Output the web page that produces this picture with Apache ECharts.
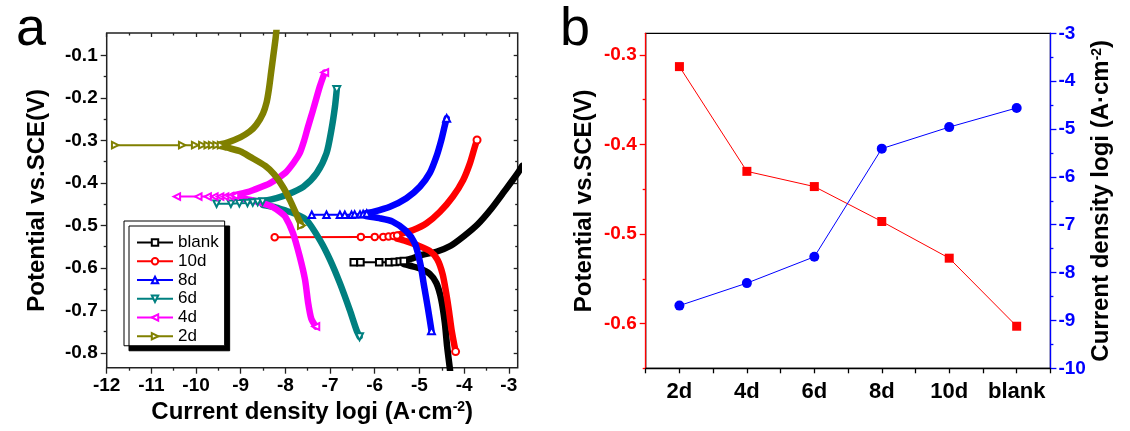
<!DOCTYPE html>
<html>
<head>
<meta charset="utf-8">
<script src="https://cdn.jsdelivr.net/npm/echarts@6.0.0/dist/echarts.min.js"></script>
<style>
html, body { margin: 0; padding: 0; background: #fff; }
#chart { width: 1130px; height: 431px; }
</style>
</head>
<body>
<div id="chart"></div>
<script>
// ---- panel a : Tafel curves, points are [log i, E(V)] ----
// flat = sparse points near Ecorr (drawn with markers), up/down = anodic/cathodic branches
const blankFlat = [[-6.47,-0.587],[-6.32,-0.587],[-5.90,-0.587],[-5.68,-0.587],[-5.55,-0.586],[-5.44,-0.585],[-5.35,-0.584]];
const blankUp = [[-5.35,-0.583],[-5.2,-0.579],[-4.92,-0.569],[-4.62,-0.562],[-4.3,-0.548],[-4.0,-0.525],[-3.7,-0.498],[-3.4,-0.462],[-3.1,-0.42],[-2.8,-0.377],[-2.7,-0.36]];
const blankDown = [[-5.35,-0.591],[-5.2,-0.595],[-5.0,-0.601],[-4.77,-0.614],[-4.62,-0.636],[-4.51,-0.675],[-4.43,-0.730],[-4.38,-0.785],[-4.32,-0.836],[-4.3,-0.86]];

const d10Flat = [[-8.24,-0.528],[-6.31,-0.527],[-6.0,-0.527],[-5.81,-0.527],[-5.69,-0.526],[-5.58,-0.525],[-5.50,-0.524]];
const d10Up = [[-5.5,-0.523],[-5.36,-0.518],[-5.14,-0.511],[-4.84,-0.495],[-4.54,-0.468],[-4.25,-0.432],[-4.02,-0.393],[-3.87,-0.354],[-3.76,-0.315],[-3.71,-0.299]];
const d10Down = [[-5.5,-0.531],[-5.3,-0.537],[-5.06,-0.546],[-4.77,-0.56],[-4.6,-0.58],[-4.48,-0.615],[-4.40,-0.66],[-4.34,-0.70],[-4.28,-0.746],[-4.19,-0.797]];

const d8Flat = [[-7.41,-0.475],[-7.08,-0.475],[-6.78,-0.475],[-6.67,-0.475],[-6.52,-0.475],[-6.45,-0.474],[-6.33,-0.474],[-6.26,-0.473],[-6.18,-0.472]];
const d8Up = [[-6.2,-0.471],[-6.04,-0.468],[-5.66,-0.456],[-5.29,-0.436],[-4.99,-0.409],[-4.77,-0.377],[-4.62,-0.338],[-4.51,-0.299],[-4.43,-0.264],[-4.39,-0.248]];
const d8Down = [[-6.2,-0.478],[-5.9,-0.483],[-5.6,-0.491],[-5.3,-0.513],[-5.1,-0.543],[-4.98,-0.59],[-4.9,-0.64],[-4.81,-0.695],[-4.73,-0.748]];

const d6Flat = [[-9.54,-0.449],[-9.22,-0.449],[-9.03,-0.448],[-8.85,-0.447],[-8.73,-0.446],[-8.62,-0.445],[-8.51,-0.444]];
const d6Up = [[-8.5,-0.443],[-8.2,-0.436],[-7.97,-0.428],[-7.6,-0.409],[-7.3,-0.377],[-7.08,-0.33],[-6.97,-0.275],[-6.89,-0.22],[-6.85,-0.18]];
const d6Down = [[-8.5,-0.452],[-8.2,-0.458],[-7.97,-0.466],[-7.75,-0.474],[-7.53,-0.487],[-7.23,-0.534],[-7.0,-0.581],[-6.78,-0.636],[-6.56,-0.699],[-6.41,-0.746],[-6.34,-0.762]];

const d4Flat = [[-10.43,-0.432],[-9.95,-0.432],[-9.74,-0.432],[-9.59,-0.432],[-9.46,-0.432],[-9.35,-0.432],[-9.24,-0.431],[-9.13,-0.43]];
const d4Up = [[-9.15,-0.429],[-8.9,-0.423],[-8.7,-0.416],[-8.35,-0.401],[-8.0,-0.376],[-7.8,-0.35],[-7.68,-0.33],[-7.58,-0.30],[-7.5,-0.27],[-7.38,-0.228],[-7.23,-0.173],[-7.12,-0.14]];
const d4Down = [[-9.15,-0.434],[-8.9,-0.438],[-8.7,-0.442],[-8.5,-0.448],[-8.3,-0.456],[-8.1,-0.47],[-8.0,-0.48],[-7.83,-0.518],[-7.68,-0.573],[-7.56,-0.628],[-7.49,-0.683],[-7.42,-0.72],[-7.32,-0.738]];

const d2Flat = [[-11.81,-0.311],[-10.31,-0.311],[-10.02,-0.311],[-9.86,-0.311],[-9.74,-0.311],[-9.64,-0.311],[-9.54,-0.311],[-9.44,-0.311]];
const d2Up = [[-9.45,-0.309],[-9.3,-0.305],[-9.0,-0.292],[-8.8,-0.279],[-8.65,-0.263],[-8.5,-0.236],[-8.42,-0.21],[-8.37,-0.18],[-8.32,-0.14],[-8.27,-0.10],[-8.22,-0.06],[-8.19,-0.03]];
const d2Down = [[-9.45,-0.313],[-9.3,-0.317],[-9.0,-0.326],[-8.8,-0.338],[-8.45,-0.36],[-8.25,-0.38],[-8.05,-0.41],[-7.9,-0.44],[-7.77,-0.47],[-7.64,-0.50]];

const aXMajor = [-12,-11,-10,-9,-8,-7,-6,-5,-4,-3];
const aXMinor = [-11.5,-10.5,-9.5,-8.5,-7.5,-6.5,-5.5,-4.5,-3.5];
const aYMajor = [-0.8,-0.7,-0.6,-0.5,-0.4,-0.3,-0.2,-0.1];
const aYMinor = [-0.75,-0.65,-0.55,-0.45,-0.35,-0.25,-0.15];

// ---- panel b ----
const bCategories = ["2d", "4d", "6d", "8d", "10d", "blank"];
const bPotential = [-0.313, -0.430, -0.447, -0.486, -0.527, -0.603];
const bCurrent = [-8.69, -8.22, -7.67, -5.41, -4.96, -4.56];
const bYMajor = [-0.6, -0.5, -0.4, -0.3];
const bYMinor = [-0.65, -0.55, -0.45, -0.35];

const FONT = "Liberation Sans";

const samples = [
  { name: "blank", color: "#000000", symbol: "emptyRect", rotate: 0, flat: blankFlat, up: blankUp, down: blankDown },
  { name: "10d", color: "#FF0000", symbol: "emptyCircle", rotate: 0, flat: d10Flat, up: d10Up, down: d10Down },
  { name: "8d", color: "#0000FF", symbol: "emptyTriangle", rotate: 0, flat: d8Flat, up: d8Up, down: d8Down },
  { name: "6d", color: "#008080", symbol: "emptyTriangle", rotate: 180, flat: d6Flat, up: d6Up, down: d6Down },
  { name: "4d", color: "#FF00FF", symbol: "emptyTriangle", rotate: 90, flat: d4Flat, up: d4Up, down: d4Down },
  { name: "2d", color: "#808000", symbol: "emptyTriangle", rotate: -90, flat: d2Flat, up: d2Up, down: d2Down }
];

const myChart = echarts.init(document.getElementById("chart"), null, { renderer: "canvas" });

const tickLabel = { fontFamily: FONT, fontSize: 19, fontWeight: "bold", color: "#000" };
const titleText = { fontFamily: FONT, fontSize: 24, fontWeight: "bold", color: "#000" };
const supRich = { s: { fontFamily: FONT, fontSize: 14, fontWeight: "bold", color: "#000", verticalAlign: "top" } };

const aMin = { x: -12, x2: -2.8, y: -0.835, y2: -0.047 };

// one value axis of panel a, used for major / minor tick overlays
const axisA = (pos, vals, len, inside, extra) => Object.assign({
  type: "value",
  gridIndex: 0,
  position: pos,
  min: pos === "bottom" || pos === "top" ? aMin.x : aMin.y,
  max: pos === "bottom" || pos === "top" ? aMin.x2 : aMin.y2,
  axisLine: { show: false },
  axisTick: { show: true, inside: inside, length: len, customValues: vals, lineStyle: { color: "#222", width: 1.3 } },
  axisLabel: { show: false },
  splitLine: { show: false }
}, extra || {});

const xAxes = [
  axisA("bottom", aXMajor, 6, false, {
    axisLabel: Object.assign({ show: true, margin: 9, customValues: aXMajor }, tickLabel),
    name: "Current density logi (A·cm{s|-2})",
    nameLocation: "middle",
    nameGap: 31,
    nameTextStyle: Object.assign({ rich: supRich }, titleText)
  }),
  axisA("bottom", aXMinor, 3, false),
  axisA("top", aXMajor, 4, true),
  axisA("top", aXMinor, 2.5, true),
  {
    type: "category", gridIndex: 1, position: "bottom", data: bCategories,
    axisLine: { show: true, lineStyle: { color: "#000", width: 1.3 } },
    axisTick: { show: true, length: 5, interval: 0, lineStyle: { color: "#000", width: 1.3 } },
    axisLabel: { interval: 0, margin: 13, fontFamily: FONT, fontSize: 22, fontWeight: "bold", color: "#000" },
    splitLine: { show: false }
  },
  {
    type: "category", gridIndex: 1, position: "bottom", data: bCategories,
    axisLine: { show: false },
    axisTick: { show: true, alignWithLabel: true, interval: 0, length: 5, lineStyle: { color: "#000", width: 1.3 } },
    axisLabel: { show: false, interval: 0 },
    splitLine: { show: false }
  }
];

const yAxes = [
  axisA("left", aYMajor, 6, false, {
    axisLabel: Object.assign({ show: true, margin: 9, customValues: aYMajor }, tickLabel),
    name: "Potential vs.SCE(V)",
    nameLocation: "middle",
    nameGap: 57,
    nameTextStyle: titleText
  }),
  axisA("left", aYMinor, 3, false),
  axisA("right", aYMajor, 4, true),
  axisA("right", aYMinor, 2.5, true),
  {
    type: "value", gridIndex: 1, position: "left", min: -0.65, max: -0.2758,
    axisLine: { show: true, lineStyle: { color: "#FF0000", width: 1.3 } },
    axisTick: { show: true, length: 6, customValues: bYMajor, lineStyle: { color: "#FF0000", width: 1.3 } },
    axisLabel: Object.assign({}, tickLabel, { color: "#FF0000", margin: 9, customValues: bYMajor }),
    name: "Potential vs.SCE(V)",
    nameLocation: "middle",
    nameGap: 49,
    nameTextStyle: titleText,
    splitLine: { show: false }
  },
  {
    type: "value", gridIndex: 1, position: "left", min: -0.65, max: -0.2758,
    axisLine: { show: false },
    axisTick: { show: true, length: 3, customValues: bYMinor, lineStyle: { color: "#FF0000", width: 1.3 } },
    axisLabel: { show: false },
    splitLine: { show: false }
  },
  {
    type: "value", gridIndex: 1, position: "right", min: -10, max: -3, interval: 1,
    axisLine: { show: true, lineStyle: { color: "#0000FF", width: 1.3 } },
    axisTick: { show: true, length: 6, lineStyle: { color: "#0000FF", width: 1.3 } },
    minorTick: { show: true, splitNumber: 2, length: 3, lineStyle: { color: "#0000FF", width: 1.3 } },
    axisLabel: Object.assign({}, tickLabel, { color: "#0000FF", margin: 8 }),
    name: "Current density logi (A·cm{s|-2})",
    nameLocation: "middle",
    nameGap: 36,
    nameTextStyle: Object.assign({ rich: supRich }, titleText),
    splitLine: { show: false }
  }
];

// dense part of a branch: thick line, marker only on the last point of the scan
const bandSeries = (s, data) => ({
  name: s.name + " band",
  type: "line",
  xAxisIndex: 0,
  yAxisIndex: 0,
  data: data,
  showSymbol: true,
  showAllSymbol: true,
  symbol: s.symbol,
  symbolRotate: s.rotate,
  symbolSize: (val, params) => (params.dataIndex === data.length - 1 ? 7 : 0),
  itemStyle: { color: s.color, borderColor: s.color, borderWidth: 1.2 },
  smooth: 0.25,
  lineStyle: { color: s.color, width: 6.5, cap: "round", join: "round" },
  silent: true
});

const series = [];
samples.forEach((s) => {
  series.push(bandSeries(s, s.down));
  series.push(bandSeries(s, s.up));
  series.push({
    name: s.name,
    type: "line",
    xAxisIndex: 0,
    yAxisIndex: 0,
    data: s.flat,
    symbol: s.symbol,
    symbolSize: 6.5,
    symbolRotate: s.rotate,
    showAllSymbol: true,
    lineStyle: { color: s.color, width: 2 },
    itemStyle: { color: s.color, borderColor: s.color, borderWidth: 1.2 }
  });
});

series.push({
  name: "Potential",
  type: "line",
  xAxisIndex: 4,
  yAxisIndex: 4,
  data: bPotential,
  symbol: "rect",
  symbolSize: 9,
  lineStyle: { color: "#FF0000", width: 1 },
  itemStyle: { color: "#FF0000" }
});
series.push({
  name: "Current",
  type: "line",
  xAxisIndex: 4,
  yAxisIndex: 6,
  data: bCurrent,
  symbol: "circle",
  symbolSize: 10,
  lineStyle: { color: "#0000FF", width: 1 },
  itemStyle: { color: "#0000FF" }
});

const option = {
  animation: false,
  backgroundColor: "#fff",
  title: [
    { text: "a", left: 11, top: -2, textStyle: { fontFamily: FONT, fontSize: 54, fontWeight: "normal", color: "#000" } },
    { text: "b", left: 555, top: -2, textStyle: { fontFamily: FONT, fontSize: 54, fontWeight: "normal", color: "#000" } }
  ],
  grid: [
    { left: 106.7, top: 33, right: 612.3, bottom: 63.3, show: true, borderColor: "#222", borderWidth: 1.5, backgroundColor: "transparent" },
    { left: 645.7, top: 33.3, right: 79.6, bottom: 62.7, show: true, borderColor: "#000", borderWidth: 1.3, backgroundColor: "transparent" }
  ],
  legend: {
    data: samples.map((s) => s.name),
    orient: "vertical",
    left: 124,
    top: 221,
    padding: [13, 6, 1, 12],
    itemWidth: 36,
    itemHeight: 8,
    itemGap: 1.75,
    selectedMode: false,
    backgroundColor: "#fff",
    borderColor: "#000",
    borderWidth: 1,
    shadowColor: "#000",
    shadowBlur: 0,
    shadowOffsetX: 5,
    shadowOffsetY: 5,
    textStyle: { fontFamily: FONT, fontSize: 17, color: "#000" }
  },
  xAxis: xAxes,
  yAxis: yAxes,
  series: series
};

myChart.setOption(option);
</script>
</body>
</html>
